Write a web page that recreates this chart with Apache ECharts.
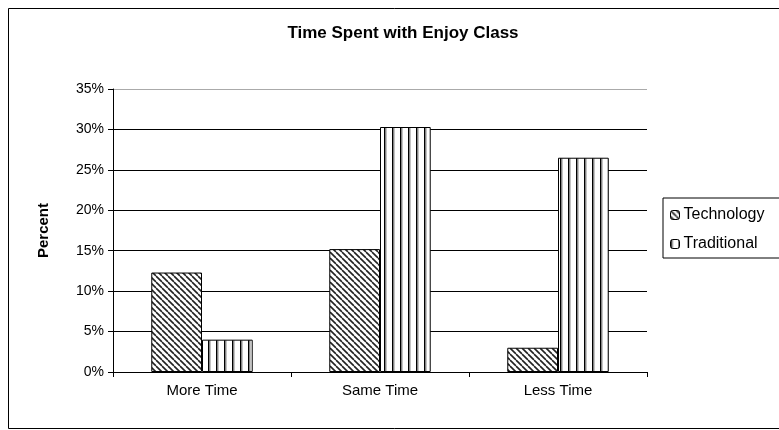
<!DOCTYPE html>
<html>
<head>
<meta charset="utf-8">
<script src="https://cdn.jsdelivr.net/npm/echarts@6/dist/echarts.min.js"></script>
<style>
  html, body { margin: 0; padding: 0; background: #fff; }
  #chart { width: 779px; height: 430px; }
</style>
</head>
<body>
<div id="chart"></div>
<script>
// values (percent)
const categories = ['More Time', 'Same Time', 'Less Time'];
const technology = [12.3, 15.2, 3.0];
const traditional = [4.0, 30.3, 26.5];
const seriesNames = ['Technology', 'Traditional'];
const yMin = 0, yMax = 35, yStep = 5;

const FONT = '"Liberation Sans", Arial, sans-serif';

// hatch fills like the old excel chart
function makePattern(kind) {
    const c = document.createElement('canvas');
    const ctx = c.getContext('2d');
    if (kind === 'diag') {
        const s = 6;
        c.width = s; c.height = s;
        ctx.fillStyle = '#fff';
        ctx.fillRect(0, 0, s, s);
        ctx.strokeStyle = '#222';
        ctx.lineWidth = 1.6;
        [-s, 0, s].forEach(x0 => {
            ctx.beginPath();
            ctx.moveTo(x0, 0);
            ctx.lineTo(x0 + s, s);
            ctx.stroke();
        });
    } else {
        const w = 8;
        c.width = w; c.height = 4;
        ctx.fillStyle = '#fff';
        ctx.fillRect(0, 0, w, 4);
        ctx.fillStyle = '#000';
        ctx.fillRect(0, 0, 1.5, 4);
        ctx.fillStyle = '#888';
        ctx.fillRect(1.5, 0, 1, 4);
    }
    return { image: c, repeat: 'repeat' };
}

const chart = echarts.init(document.getElementById('chart'));

// last grid line (35%) is the light plot-area edge
const gridColors = ['#000', '#000', '#000', '#000', '#000', '#000', '#000', '#aaa'];

const option = {
    animation: false,
    backgroundColor: '#fff',
    textStyle: { fontFamily: FONT, color: '#000' },
    title: {
        text: 'Time Spent with Enjoy Class',
        left: 398,
        textAlign: 'center',
        top: 20,
        textStyle: { fontFamily: FONT, fontSize: 17, fontWeight: 'bold', color: '#000' }
    },
    graphic: [{
        type: 'rect',
        shape: { x: 8.5, y: 8.5, width: 800, height: 420 },
        style: { fill: 'none', stroke: '#000', lineWidth: 1 },
        z: -1
    }],
    legend: {
        data: seriesNames,
        orient: 'vertical',
        left: 663,
        top: 198,
        padding: [9, 30, 6, 7],
        itemGap: 13,
        itemWidth: 9,
        itemHeight: 9,
        backgroundColor: '#fff',
        borderColor: '#000',
        borderWidth: 1,
        borderRadius: 0,
        itemStyle: { borderColor: '#000', borderWidth: 1 },
        textStyle: { fontFamily: FONT, fontSize: 16, color: '#000', padding: [0, 0, 0, -1] }
    },
    grid: { left: 113, right: 132, top: 89, bottom: 58, containLabel: false },
    xAxis: {
        type: 'category',
        data: categories,
        axisLine: { lineStyle: { color: '#000', width: 1 } },
        axisTick: { show: true, length: 5, alignWithLabel: false, lineStyle: { color: '#000' } },
        axisLabel: { fontFamily: FONT, fontSize: 15, color: '#000', margin: 11 }
    },
    yAxis: {
        type: 'value',
        min: yMin,
        max: yMax,
        interval: yStep,
        name: 'Percent',
        nameLocation: 'middle',
        nameGap: 62,
        nameTextStyle: { fontFamily: FONT, fontSize: 15, fontWeight: 'bold', color: '#000' },
        axisLine: { show: true, lineStyle: { color: '#000', width: 1 } },
        axisTick: { show: true, length: 5, inside: false, lineStyle: { color: '#000' } },
        axisLabel: { fontFamily: FONT, fontSize: 14, color: '#000', margin: 9, formatter: '{value}%' },
        splitLine: { show: true, lineStyle: { color: gridColors, width: 1 } }
    },
    series: [
        {
            name: seriesNames[0],
            type: 'bar',
            data: technology,
            barGap: '0%',
            barCategoryGap: '43%',
            itemStyle: { color: makePattern('diag'), borderColor: '#000', borderWidth: 1 }
        },
        {
            name: seriesNames[1],
            type: 'bar',
            data: traditional,
            itemStyle: { color: makePattern('vert'), borderColor: '#000', borderWidth: 1 }
        }
    ]
};

chart.setOption(option);
</script>
</body>
</html>
